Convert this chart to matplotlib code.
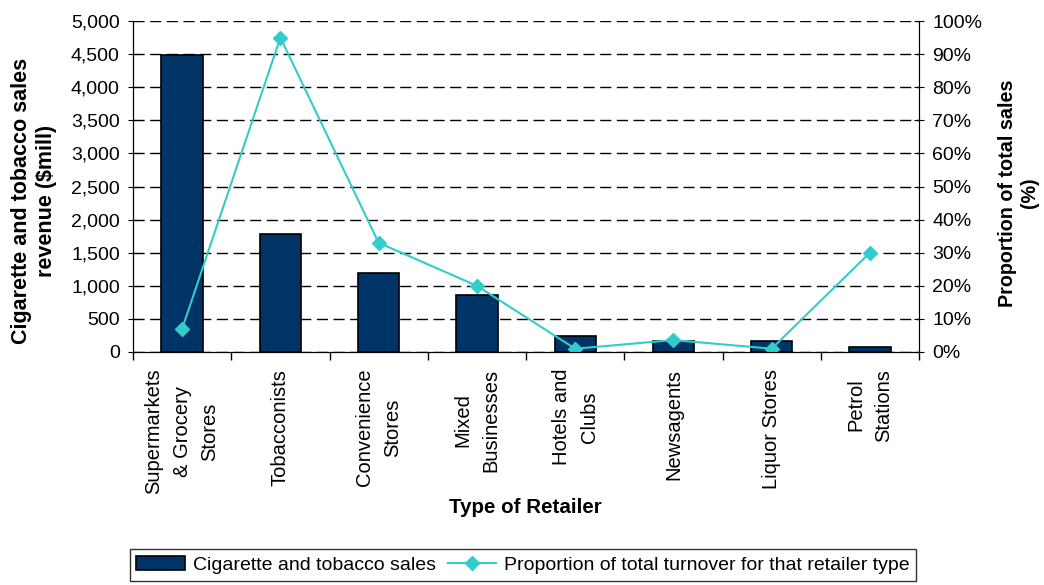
import numpy as np
import matplotlib.pyplot as plt
from matplotlib.ticker import FuncFormatter, PercentFormatter

plt.rcParams['font.family'] = ['Liberation Sans', 'DejaVu Sans']

# retailer types and their figures
retailers = ["Supermarkets\n& Grocery\nStores", "Tobacconists", "Convenience\nStores",
             "Mixed\nBusinesses", "Hotels and\nClubs", "Newsagents", "Liquor Stores",
             "Petrol\nStations"]
sales = [4480, 1790, 1190, 865, 242, 162, 160, 80]  # $mill
proportion = [7, 95, 33, 20, 1, 3.6, 1, 30]  # % of total turnover

x = np.arange(len(retailers))

fig = plt.figure(figsize=(10.44, 5.85), dpi=100)
ax = fig.add_axes([0.1274, 0.3983, 0.7529, 0.5657])

bars = ax.bar(x, sales, width=0.42, color='#003366', edgecolor='black', linewidth=1.2,
              label="Cigarette and tobacco sales", zorder=3)
ax.set_xlim(-0.5, len(retailers) - 0.5)
ax.set_ylim(0, 5000)
ax.set_yticks(np.arange(0, 5001, 500))
ax.yaxis.set_major_formatter(FuncFormatter(lambda v, p: f"{int(v):,}"))
ax.grid(axis='y', color='black', linestyle=(0, (8, 4)), linewidth=1, zorder=0)

# labels under each bar, tick marks between the bars
ax.set_xticks(x)
ax.set_xticklabels(retailers, rotation=90, ha='center', va='top', multialignment='center',
                   linespacing=1.6)
ax.set_xticks(np.arange(-0.5, len(retailers)), minor=True)
ax.tick_params(axis='x', which='major', length=0, pad=12, labelsize=14.5)
ax.tick_params(axis='x', which='minor', length=6, width=1, color='black', direction='out')
ax.tick_params(axis='y', direction='inout', length=7, pad=6, labelsize=14)
ax.spines['top'].set_visible(False)

ax.set_xlabel("Type of Retailer", fontsize=14.8, fontweight='bold')
ax.xaxis.set_label_coords(0.4987, -0.471)
ax.xaxis.label.set_va('center')
ax.set_ylabel("Cigarette and tobacco sales\nrevenue ($mill)", fontsize=15.5,
              fontweight='bold', linespacing=1.2)
ax.yaxis.set_label_coords(-0.126, 0.456)
ax.yaxis.label.set_va('center')

# proportion of turnover on the right axis
ax2 = ax.twinx()
line, = ax2.plot(x, proportion, color='#33CCCC', marker='D', markersize=7, linewidth=1.5,
                 label="Proportion of total turnover for that retailer type")
ax2.set_ylim(0, 100)
ax2.set_yticks(np.arange(0, 101, 10))
ax2.yaxis.set_major_formatter(PercentFormatter(decimals=0))
ax2.tick_params(axis='y', direction='inout', length=7, pad=6, labelsize=14)
ax2.spines['top'].set_visible(False)
ax2.set_ylabel("Proportion of total sales\n(%)", fontsize=14.2, fontweight='bold',
               linespacing=1.2)
ax2.yaxis.set_label_coords(1.126, 0.48)
ax2.yaxis.label.set_va('center')

leg = fig.legend([bars, line], [bars.get_label(), line.get_label()], loc='center',
                 bbox_to_anchor=(523 / 1044, 1 - 565 / 585), ncol=2, fontsize=14,
                 frameon=True, fancybox=False, edgecolor='black', handlelength=2.5,
                 columnspacing=0.6, handletextpad=0.4, borderpad=0.35)
leg.get_frame().set_linewidth(1)

fig.savefig("out.png", dpi=100)
